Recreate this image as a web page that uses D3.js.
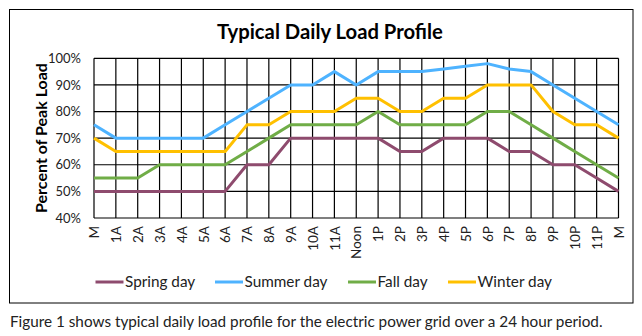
<!DOCTYPE html>
<html><head><meta charset="utf-8">
<script src="https://cdn.jsdelivr.net/npm/d3@7"></script>
<style>body{margin:0;background:#fff;} svg{display:block;}</style>
</head><body>
<svg id="c" width="642" height="336"></svg>
<script>
const hours = ["M","1A","2A","3A","4A","5A","6A","7A","8A","9A","10A","11A","Noon","1P","2P","3P","4P","5P","6P","7P","8P","9P","10P","11P","M "];
const spring = [50,50,50,50,50,50,50,60,60,70,70,70,70,70,65,65,70,70,70,65,65,60,60,55,50];
const summer = [75,70,70,70,70,70,75,80,85,90,90,95,90,95,95,95,96,97,98,96,95,90,85,80,75];
const fall   = [55,55,55,60,60,60,60,65,70,75,75,75,75,80,75,75,75,75,80,80,75,70,65,60,55];
const winter = [70,65,65,65,65,65,65,75,75,80,80,80,85,85,80,80,85,85,90,90,90,80,75,75,70];
const yTicks = [40,50,60,70,80,90,100];
const seriesNames = ["Spring day","Summer day","Fall day","Winter day"];
const seriesColors = ["#8e4b6e","#4eb3ff","#70ad47","#ffc000"];
const seriesData = [spring, summer, fall, winter];

const svg = d3.select("#c");
const font = "Lato, 'Noto Sans', sans-serif";
const L = 94, R = 618.5, T = 58.3, B = 218;

// scale font-size of a text selection so that a sample node spans target width
function fit(sel, sampleNode, target, base){
  const w = sampleNode.getComputedTextLength();
  const fs = base * target / w;
  sel.attr("font-size", fs);
  return fs;
}

svg.append("rect").attr("x",9.5).attr("y",9.5).attr("width",623.5).attr("height",293.5)
  .attr("fill","#fff").attr("stroke","#000").attr("stroke-width",1);

const x = d3.scalePoint().domain(hours).range([L,R]);
const y = d3.scaleLinear().domain([40,100]).range([B,T]);

// grid
const g = svg.append("g");
g.selectAll(".hg").data(yTicks).join("line")
  .attr("x1",L).attr("x2",R).attr("y1",d=>y(d)).attr("y2",d=>y(d))
  .attr("stroke","#000").attr("stroke-width",1.2);
g.selectAll(".vg").data(hours).join("line")
  .attr("x1",d=>x(d)).attr("x2",d=>x(d)).attr("y1",T).attr("y2",B)
  .attr("stroke","#000").attr("stroke-width",1.2);

// y axis
const ya = svg.append("g").attr("transform",`translate(${L},0)`)
  .call(d3.axisLeft(y).tickValues(yTicks).tickFormat(d=>d+"%").tickSize(0).tickPadding(13));
ya.select(".domain").remove();
const yt = ya.selectAll("text").attr("font-family",font).attr("font-size",13).attr("fill","#222");
fit(yt, yt.filter(d=>d===100).node(), 33, 13);

// x axis
const xa = svg.append("g").attr("transform",`translate(0,${B})`)
  .call(d3.axisBottom(x).tickSize(0));
xa.select(".domain").remove();
const xt = xa.selectAll("text").attr("font-family",font).attr("font-size",11.5).attr("fill","#222")
  .attr("transform","rotate(-90)").attr("text-anchor","end")
  .attr("x",-8).attr("y",0).attr("dy","0.35em");
fit(xt, xt.filter(d=>d==="Noon").node(), 33, 11.5);

// lines
const line = d3.line().x((d,i)=>x(hours[i])).y(d=>y(d));
seriesData.forEach((s,k)=>{
  svg.append("path").datum(s).attr("d",line).attr("fill","none")
    .attr("stroke",seriesColors[k]).attr("stroke-width",3).attr("stroke-linejoin","round");
});

// title
const title = svg.append("text").attr("x",330).attr("y",39).attr("text-anchor","middle")
  .attr("font-family",font).attr("font-weight","bold").attr("font-size",17.5)
  .attr("fill","#000").text("Typical Daily Load Profile");
fit(title, title.node(), 226, 17.5);

// y title
const yTitle = svg.append("text").attr("transform","translate(47,138) rotate(-90)").attr("text-anchor","middle")
  .attr("font-family",font).attr("font-weight","bold").attr("font-size",14)
  .attr("fill","#000").text("Percent of Peak Load");
fit(yTitle, yTitle.node(), 150, 14);

// legend
const legX = [95.5,215,348,448];
const legTexts = [];
seriesNames.forEach((n,k)=>{
  svg.append("line").attr("x1",legX[k]).attr("x2",legX[k]+28).attr("y1",282).attr("y2",282)
    .attr("stroke",seriesColors[k]).attr("stroke-width",3);
  legTexts.push(svg.append("text").attr("x",legX[k]+29.5).attr("y",287).attr("font-family",font)
    .attr("font-size",14.5).attr("fill","#222").text(n).node());
});
fit(d3.selectAll(legTexts), legTexts[1], 83, 14.5);

// caption
const cap = svg.append("text").attr("x",10).attr("y",327).attr("font-family",font)
  .attr("font-size",13.8).attr("fill","#222")
  .text("Figure 1 shows typical daily load profile for the electric power grid over a 24 hour period.");
fit(cap, cap.node(), 593, 13.8);
</script>
</body></html>
